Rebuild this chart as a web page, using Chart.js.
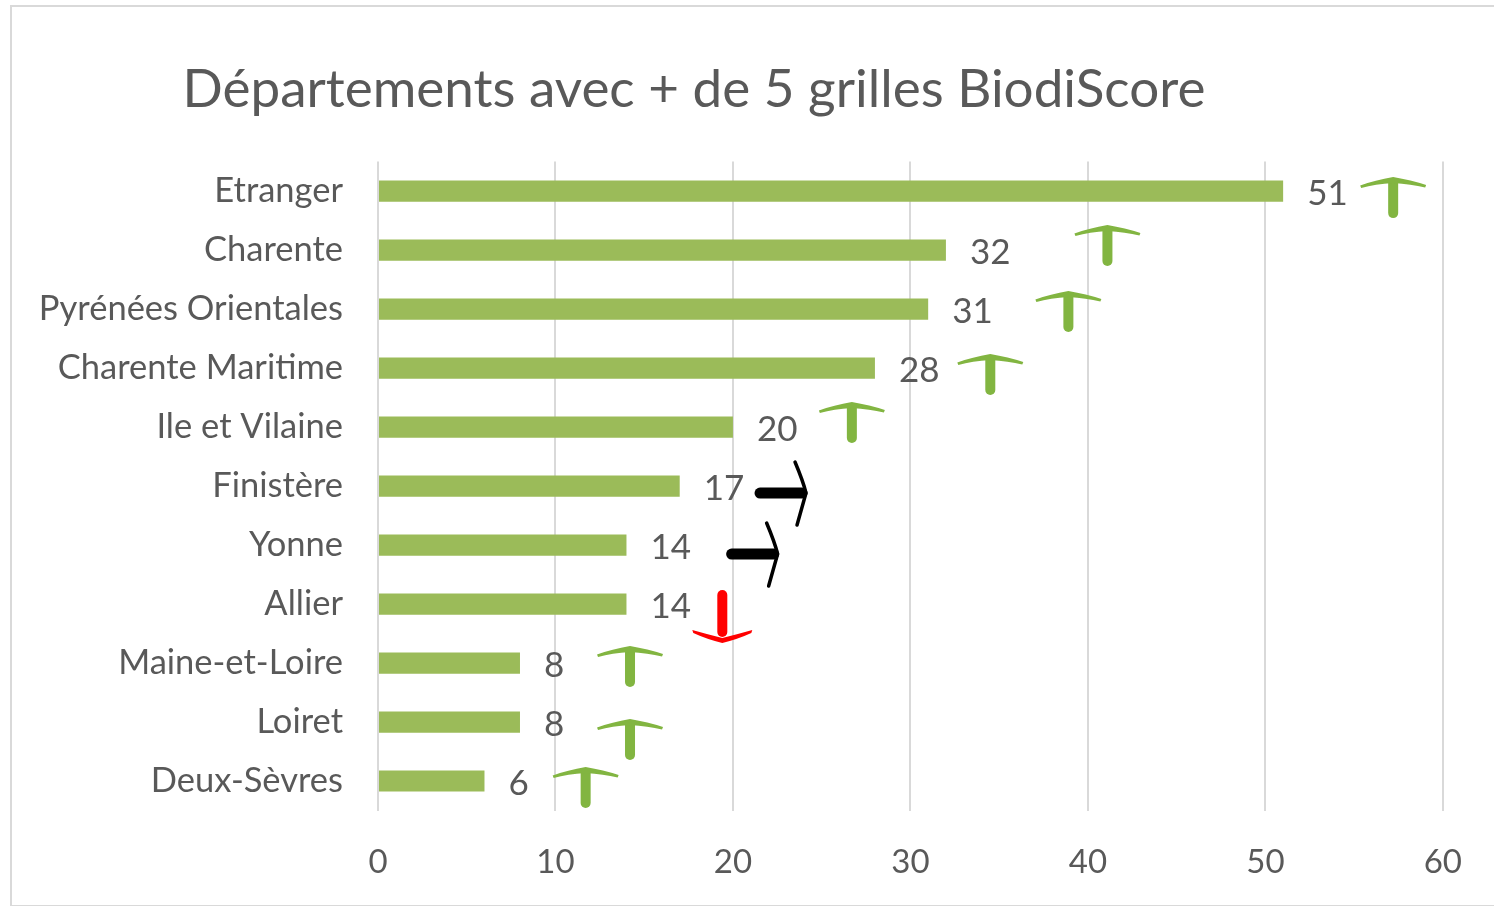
<!DOCTYPE html>
<html>
<head>
<meta charset="utf-8">
<script src="https://cdn.jsdelivr.net/npm/chart.js@4"></script>
<style>
  html, body { margin: 0; padding: 0; background: #fff; }
  #wrap { position: relative; width: 1494px; height: 906px; overflow: hidden; }
  #cadre { position: absolute; left: 10px; top: 5px; width: 1500px; height: 898px; border: 2px solid #d9d9d9; pointer-events: none; }
  canvas { position: absolute; left: 0; top: 0; }
</style>
</head>
<body>
<div id="wrap">
  <canvas id="grafico" width="1494" height="906"></canvas>
  <div id="cadre"></div>
</div>
<script>
const titre = 'Départements avec + de 5 grilles BiodiScore';
const departements = ['Etranger', 'Charente', 'Pyrénées Orientales', 'Charente Maritime', 'Ile et Vilaine',
  'Finistère', 'Yonne', 'Allier', 'Maine-et-Loire', 'Loiret', 'Deux-Sèvres'];
const grilles = [51, 32, 31, 28, 20, 17, 14, 14, 8, 8, 6];
const ticksX = [0, 10, 20, 30, 40, 50, 60];

// tendance dessinée à côté de chaque barre : sens + position en valeur d'axe
const tendances = ['up', 'up', 'up', 'up', 'up', 'right', 'right', 'down', 'up', 'up', 'up'];
const tendanceX = [57.2, 41.1, 38.9, 34.5, 26.7, 21.3, 19.7, 19.4, 14.2, 14.2, 11.7];

// décalage vertical (px) des flèches par rapport au centre de la barre
const decalY = [-14, -25, -18, -14, -25, 7, 9, -12, -17, -3, -14];

const police = 'Lato, "Open Sans", sans-serif';
const gris = '#595959';

function flecheHaut(ctx, x, y) {
  ctx.strokeStyle = '#82b541';
  ctx.fillStyle = '#82b541';
  ctx.lineCap = 'round';
  ctx.lineWidth = 10;
  ctx.beginPath();
  ctx.moveTo(x, y + 6);
  ctx.lineTo(x, y + 36);
  ctx.stroke();
  ctx.beginPath();
  ctx.moveTo(x, y);
  ctx.quadraticCurveTo(x + 18, y + 3, x + 33, y + 8);
  ctx.lineTo(x + 32, y + 10.5);
  ctx.quadraticCurveTo(x + 18, y + 7, x, y + 6);
  ctx.quadraticCurveTo(x - 18, y + 7, x - 32, y + 11);
  ctx.lineTo(x - 33, y + 8.5);
  ctx.quadraticCurveTo(x - 18, y + 3, x, y);
  ctx.closePath();
  ctx.fill();
}

function flecheDroite(ctx, x, y) {
  ctx.strokeStyle = '#000';
  ctx.lineCap = 'round';
  ctx.lineWidth = 11;
  ctx.beginPath();
  ctx.moveTo(x + 4, y);
  ctx.lineTo(x + 46, y);
  ctx.stroke();
  ctx.lineWidth = 3.5;
  ctx.beginPath();
  ctx.moveTo(x + 39, y - 31);
  ctx.quadraticCurveTo(x + 47, y - 12, x + 50, y);
  ctx.quadraticCurveTo(x + 46, y + 14, x + 41, y + 32);
  ctx.stroke();
}

function flecheBas(ctx, x, y) {
  ctx.strokeStyle = '#ff0000';
  ctx.fillStyle = '#ff0000';
  ctx.lineCap = 'round';
  ctx.lineWidth = 10;
  ctx.beginPath();
  ctx.moveTo(x, y + 3);
  ctx.lineTo(x, y + 40);
  ctx.stroke();
  ctx.beginPath();
  ctx.moveTo(x, y + 46);
  ctx.quadraticCurveTo(x + 16, y + 42, x + 30, y + 38);
  ctx.lineTo(x + 29, y + 41);
  ctx.quadraticCurveTo(x + 16, y + 47, x, y + 51);
  ctx.quadraticCurveTo(x - 16, y + 47, x - 29, y + 41);
  ctx.lineTo(x - 30, y + 38);
  ctx.quadraticCurveTo(x - 16, y + 42, x, y + 46);
  ctx.closePath();
  ctx.fill();
}

const pluginDessin = {
  id: 'dessin',
  afterLayout(chart) {
    const tb = chart.titleBlock;
    if (tb) {
      tb.left = 0;
      tb.right = 1388;
      tb.width = 1388;
    }
  },
  afterDatasetsDraw(chart) {
    const ctx = chart.ctx;
    const xs = chart.scales.x;
    const barres = chart.getDatasetMeta(0).data;
    ctx.save();
    ctx.font = '35px ' + police;
    ctx.fillStyle = gris;
    ctx.textAlign = 'left';
    ctx.textBaseline = 'middle';
    barres.forEach((b, i) => {
      ctx.fillText(String(grilles[i]), b.x + 24, b.y + 3);
    });
    barres.forEach((b, i) => {
      const x = xs.getPixelForValue(tendanceX[i]);
      const y = b.y + decalY[i];
      if (tendances[i] === 'up') flecheHaut(ctx, x, y);
      else if (tendances[i] === 'right') flecheDroite(ctx, x, y);
      else flecheBas(ctx, x, y);
    });
    ctx.restore();
  }
};

new Chart(document.getElementById('grafico'), {
  type: 'bar',
  data: {
    labels: departements,
    datasets: [{
      label: 'Grilles BiodiScore',
      data: grilles,
      backgroundColor: '#9bbb59',
      borderWidth: 0,
      categoryPercentage: 1,
      barPercentage: 0.36
    }]
  },
  options: {
    indexAxis: 'y',
    responsive: false,
    animation: false,
    layout: { padding: { left: 0, right: 39, top: 0, bottom: 0 } },
    plugins: {
      legend: { display: false },
      tooltip: { enabled: false },
      title: {
        display: true,
        text: titre,
        color: gris,
        font: { family: police, size: 53, weight: 'normal', lineHeight: 1.2 },
        padding: { top: 58, bottom: 40 }
      }
    },
    scales: {
      x: {
        min: 0,
        max: 60,
        afterBuildTicks: (s) => { s.ticks = ticksX.map(v => ({ value: v })); },
        afterFit: (s) => { s.height = 95.5; },
        grid: { color: '#d9d9d9', lineWidth: 2, drawTicks: false },
        border: { display: false },
        ticks: { color: gris, padding: 32, font: { family: police, size: 33 } }
      },
      y: {
        afterFit: (s) => { s.width = 378; },
        grid: { display: false, drawTicks: false },
        border: { display: false },
        ticks: { color: gris, padding: 35, font: { family: police, size: 34.5 } }
      }
    }
  },
  plugins: [pluginDessin]
});
</script>
</body>
</html>
